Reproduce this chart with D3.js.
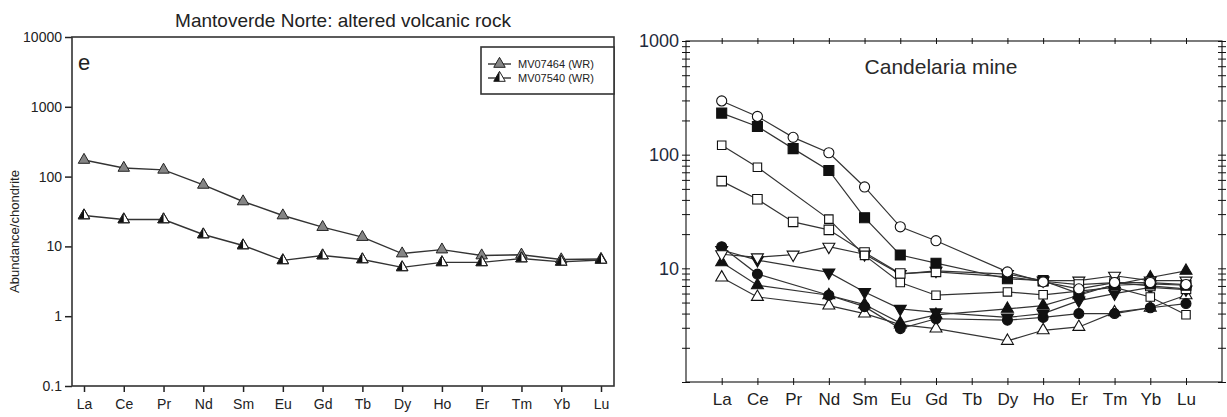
<!DOCTYPE html>
<html>
<head>
<meta charset="utf-8">
<script src="https://cdnjs.cloudflare.com/ajax/libs/d3/7.8.5/d3.min.js"></script>
<style>
  body { margin: 0; background: #fff; }
</style>
<title>REE patterns</title>
</head>
<body>
<div id="chart"></div>
<script>
// REE order (chondrite normalised)
var ree = ["La", "Ce", "Pr", "Nd", "Sm", "Eu", "Gd", "Tb", "Dy", "Ho", "Er", "Tm", "Yb", "Lu"];

// panel e: Mantoverde Norte
var mvTicks = [0.1, 1, 10, 100, 1000, 10000];
var mvNames = ["MV07464 (WR)", "MV07540 (WR)"];
var mv07464 = [173, 133, 125, 76, 44, 27.7, 18.9, 13.6, 7.9, 9.0, 7.4, 7.6, 6.5, 6.6];
var mv07540 = [27.7, 24.3, 24.3, 14.8, 10.3, 6.3, 7.4, 6.5, 5.0, 5.9, 5.9, 6.7, 6.0, 6.4];

// Candelaria mine (null = not analysed)
var candTicks = [10, 100, 1000];
var openCircle     = [297, 217, 142, 104, 52, 23.2, 17.5, null, 9.3, 7.6, 6.6, 7.5, 7.5, 7.2];
var filledSquare   = [232, 177, 113, 72.6, 27.9, 13.1, 11.1, null, 8.1, 7.8, 6.0, 7.1, 7.3, 7.1];
var smallSquare    = [121, 77.6, null, 27.1, 13.0, 7.5, 5.8, null, 6.2, 5.85, 6.3, 6.8, 5.6, 3.9];
var openSquare     = [58.5, 40.5, 25.6, 21.8, 13.8, 9.0, 9.3, null, 8.4, 7.7, 7.2, 7.5, 7.0, 6.6];
var openDown       = [13.3, 12.5, 13.2, 15.5, 13.3, 8.9, 9.5, null, 8.9, 7.8, 7.8, 8.6, 7.8, 7.8];
var filledDown     = [14.5, 11.8, null, 9.2, 6.2, 4.4, 4.1, null, 3.7, 4.0, 5.2, 6.0, 6.8, 6.5];
var filledCircle   = [15.5, 8.9, null, 5.8, 4.6, 2.95, 3.6, null, 3.5, 3.7, 4.0, 4.0, 4.5, 4.9];
var filledUp       = [11.3, 7.1, null, 5.8, 4.8, 3.3, 3.9, null, 4.4, 4.7, 5.8, 7.2, 8.3, 9.5];
var openUp         = [8.3, 5.6, null, 4.7, 4.0, 3.2, 2.95, null, 2.3, 2.85, 3.05, 4.1, 4.5, 5.8];

var narrow = "'Liberation Sans Narrow', 'Arial Narrow', 'Liberation Sans', sans-serif";
var wide = "'Liberation Sans', Arial, Helvetica, sans-serif";

var svg = d3.select("#chart")
    .append("svg")
    .attr("width", 1227)
    .attr("height", 417);

svg.append("rect").attr("width", 1227).attr("height", 417).attr("fill", "#fff");

// ---------------- left panel ----------------
var L = { left: 72, right: 614, top: 37, bottom: 386 };
var xL = d3.scalePoint().domain(ree).range([84, 601]);
var yL = d3.scaleLog().domain([0.1, 10000]).range([L.bottom, L.top]);

var left = svg.append("g");

left.append("text")
    .attr("x", (L.left + L.right) / 2)
    .attr("y", 27)
    .attr("text-anchor", "middle")
    .attr("font-family", narrow)
    .attr("font-size", 19)
    .attr("fill", "#222")
    .text("Mantoverde Norte: altered volcanic rock");

left.append("g")
    .attr("transform", "translate(" + L.left + ",0)")
    .call(d3.axisLeft(yL).tickValues(mvTicks).tickFormat(function (d) { return String(d); }).tickSize(7).tickPadding(3))
    .call(function (g) { g.select(".domain").remove(); })
    .attr("font-family", narrow)
    .attr("font-size", 14)
    .call(function (g) {
        g.selectAll("line").attr("stroke", "#222").attr("stroke-width", 1.5);
        g.selectAll("text").attr("fill", "#222");
    });

left.append("g")
    .attr("transform", "translate(0," + L.bottom + ")")
    .call(d3.axisBottom(xL).tickSize(6).tickPadding(7))
    .call(function (g) { g.select(".domain").remove(); })
    .attr("font-family", narrow)
    .attr("font-size", 14)
    .call(function (g) {
        g.selectAll("line").attr("stroke", "#222").attr("stroke-width", 1.5);
        g.selectAll("text").attr("fill", "#222");
    });

left.append("rect")
    .attr("x", L.left).attr("y", L.top)
    .attr("width", L.right - L.left).attr("height", L.bottom - L.top)
    .attr("fill", "none").attr("stroke", "#333").attr("stroke-width", 1.6);

left.append("text")
    .attr("transform", "translate(19," + ((L.top + L.bottom) / 2 + 20) + ") rotate(-90)")
    .attr("text-anchor", "middle")
    .attr("font-family", narrow)
    .attr("font-size", 13)
    .attr("fill", "#222")
    .text("Abundance/chondrite");

left.append("text")
    .attr("x", 78).attr("y", 70)
    .attr("font-family", wide)
    .attr("font-size", 22)
    .attr("fill", "#222")
    .text("e");

var lineL = d3.line()
    .x(function (d) { return xL(d.el); })
    .y(function (d) { return yL(d.v); });

var triSide = 11.5;
var triH = triSide * Math.sqrt(3) / 2;
var triangle = d3.symbol().type(d3.symbolTriangle).size(triSide * triSide * Math.sqrt(3) / 4);
// left half of the same triangle (for the half-filled marker)
var halfTri = "M0," + (-triH * 2 / 3) + "L" + (-triSide / 2) + "," + (triH / 3) + "L0," + (triH / 3) + "Z";

function pts(vals) {
    return ree.map(function (el, i) { return { el: el, v: vals[i] }; })
        .filter(function (d) { return d.v != null; });
}

var mvSeries = [mv07464, mv07540];
mvSeries.forEach(function (vals, k) {
    var data = pts(vals);
    left.append("path")
        .datum(data)
        .attr("d", lineL)
        .attr("fill", "none")
        .attr("stroke", "#333")
        .attr("stroke-width", 1.4);
    var m = left.selectAll(null)
        .data(data)
        .enter()
        .append("g")
        .attr("transform", function (d) { return "translate(" + xL(d.el) + "," + yL(d.v) + ")"; });
    if (k === 0) {
        m.append("path").attr("d", triangle).attr("fill", "#858585").attr("stroke", "#222").attr("stroke-width", 1);
    } else {
        m.append("path").attr("d", triangle).attr("fill", "#fff").attr("stroke", "#222").attr("stroke-width", 1);
        m.append("path").attr("d", halfTri).attr("fill", "#111");
        m.append("path").attr("d", triangle).attr("fill", "none").attr("stroke", "#222").attr("stroke-width", 1);
    }
});

// legend
var leg = left.append("g");
leg.append("rect")
    .attr("x", 481).attr("y", 47)
    .attr("width", L.right - 481).attr("height", 47)
    .attr("fill", "#fff").attr("stroke", "#333").attr("stroke-width", 1.6);
mvNames.forEach(function (name, k) {
    var cy = 64 + k * 14;
    var g = leg.append("g").attr("transform", "translate(0," + cy + ")");
    g.append("line").attr("x1", 488).attr("x2", 511).attr("stroke", "#333").attr("stroke-width", 1.4);
    var mk = g.append("g").attr("transform", "translate(499.5,0)");
    if (k === 0) {
        mk.append("path").attr("d", triangle).attr("fill", "#858585").attr("stroke", "#222").attr("stroke-width", 1);
    } else {
        mk.append("path").attr("d", triangle).attr("fill", "#fff").attr("stroke", "#222").attr("stroke-width", 1);
        mk.append("path").attr("d", halfTri).attr("fill", "#111");
    }
    g.append("text")
        .attr("x", 518).attr("y", 4)
        .attr("font-family", narrow)
        .attr("font-size", 11)
        .attr("fill", "#222")
        .text(name);
});

// ---------------- right panel ----------------
var R = { left: 686, right: 1222, top: 41, bottom: 382 };
var xR = d3.scalePoint().domain(ree).range([721.7, 1186]);
var yR = d3.scaleLog().domain([1, 1000]).range([R.bottom, R.top]);

var right = svg.append("g");

var minor = [];
[1, 10, 100].forEach(function (dec) {
    for (var i = 1; i < 10; i++) minor.push(dec * i);
});
minor.push(1000);

function styleAxis(g) {
    g.select(".domain").remove();
    g.selectAll("line").attr("stroke", "#111").attr("stroke-width", 1);
}

// left axis ticks crossing the frame
right.append("g")
    .attr("transform", "translate(" + R.left + ",0)")
    .call(d3.axisLeft(yR).tickValues(minor).tickSize(4).tickPadding(3)
        .tickFormat(function (d) { return candTicks.indexOf(d) >= 0 ? String(d) : ""; }))
    .attr("font-family", wide)
    .attr("font-size", 18)
    .call(styleAxis)
    .call(function (g) { g.selectAll("text").attr("fill", "#1f2a3c"); });
right.append("g")
    .attr("transform", "translate(" + R.left + ",0)")
    .call(d3.axisRight(yR).tickValues(minor).tickSize(4).tickFormat(""))
    .call(styleAxis);
right.append("g")
    .attr("transform", "translate(" + R.right + ",0)")
    .call(d3.axisRight(yR).tickValues(minor).tickSize(4).tickFormat(""))
    .call(styleAxis);
right.append("g")
    .attr("transform", "translate(" + R.right + ",0)")
    .call(d3.axisLeft(yR).tickValues(minor).tickSize(4).tickFormat(""))
    .call(styleAxis);

// top and bottom ticks
right.append("g")
    .attr("transform", "translate(0," + R.top + ")")
    .call(d3.axisTop(xR).tickSize(3).tickFormat(""))
    .call(styleAxis);
right.append("g")
    .attr("transform", "translate(0," + R.top + ")")
    .call(d3.axisBottom(xR).tickSize(3).tickFormat(""))
    .call(styleAxis);
right.append("g")
    .attr("transform", "translate(0," + R.bottom + ")")
    .call(d3.axisTop(xR).tickSize(4).tickFormat(""))
    .call(styleAxis);
right.append("g")
    .attr("transform", "translate(0," + R.bottom + ")")
    .call(d3.axisBottom(xR).tickSize(3).tickPadding(8))
    .attr("font-family", wide)
    .attr("font-size", 17)
    .call(styleAxis)
    .call(function (g) { g.selectAll("text").attr("fill", "#222"); });

right.append("rect")
    .attr("x", R.left).attr("y", R.top)
    .attr("width", R.right - R.left).attr("height", R.bottom - R.top)
    .attr("fill", "none").attr("stroke", "#111").attr("stroke-width", 1.1);

right.append("text")
    .attr("x", 941).attr("y", 74)
    .attr("text-anchor", "middle")
    .attr("font-family", wide)
    .attr("font-size", 21)
    .attr("fill", "#2a2a2a")
    .text("Candelaria mine");

var sq = d3.symbol().type(d3.symbolSquare);
var circ = d3.symbol().type(d3.symbolCircle);
var triR = d3.symbol().type(d3.symbolTriangle).size(62);

var candSeries = [
    { vals: openUp,       shape: triR,              rot: 0,   filled: false },
    { vals: filledUp,     shape: triR,              rot: 0,   filled: true },
    { vals: filledCircle, shape: circ.size(78)(),   rot: 0,   filled: true },
    { vals: filledDown,   shape: triR,              rot: 180, filled: true },
    { vals: openDown,     shape: triR,              rot: 180, filled: false },
    { vals: openSquare,   shape: sq.size(90)(),     rot: 0,   filled: false },
    { vals: smallSquare,  shape: sq.size(72)(),     rot: 0,   filled: false },
    { vals: filledSquare, shape: sq.size(100)(),    rot: 0,   filled: true },
    { vals: openCircle,   shape: circ.size(80)(),   rot: 0,   filled: false }
];

var lineR = d3.line()
    .x(function (d) { return xR(d.el); })
    .y(function (d) { return yR(d.v); });

candSeries.forEach(function (s) {
    var data = pts(s.vals);
    right.append("path")
        .datum(data)
        .attr("d", lineR)
        .attr("fill", "none")
        .attr("stroke", "#333")
        .attr("stroke-width", 1.2);
});
candSeries.forEach(function (s) {
    var data = pts(s.vals);
    right.selectAll(null)
        .data(data)
        .enter()
        .append("path")
        .attr("transform", function (d) { return "translate(" + xR(d.el) + "," + yR(d.v) + ") rotate(" + s.rot + ")"; })
        .attr("d", s.shape)
        .attr("fill", s.filled ? "#111" : "#fff")
        .attr("stroke", "#111")
        .attr("stroke-width", 1.1);
});
</script>
</body>
</html>
